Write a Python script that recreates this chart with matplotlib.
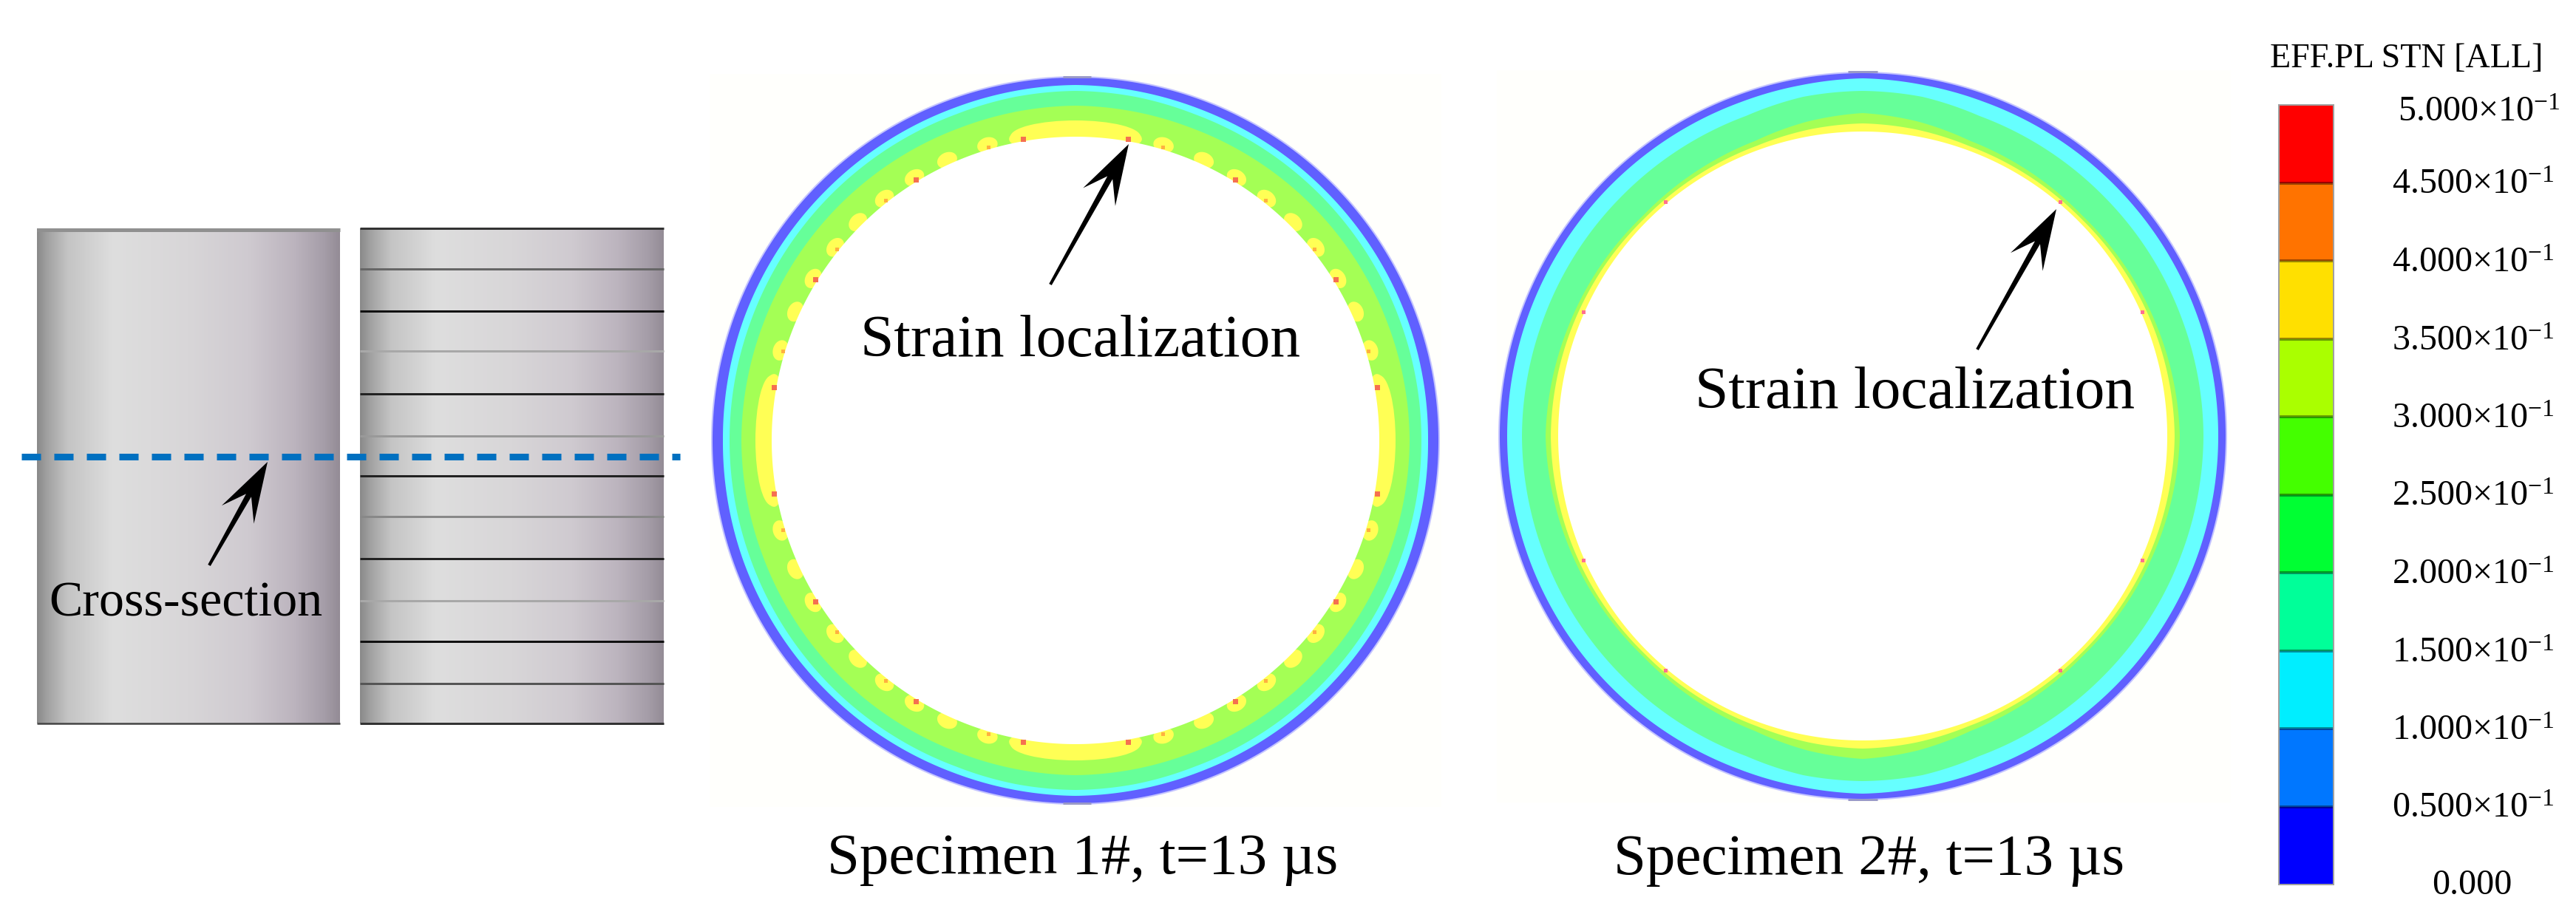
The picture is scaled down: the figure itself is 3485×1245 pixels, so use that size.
import numpy as np
import matplotlib
matplotlib.use('Agg')
import matplotlib.pyplot as plt
from matplotlib.colors import LinearSegmentedColormap
from matplotlib.patches import Ellipse, Polygon

W, H = 3486, 1245

plt.rcParams['font.family'] = ['Liberation Serif', 'DejaVu Serif']
plt.rcParams['mathtext.fontset'] = 'custom'
plt.rcParams['mathtext.rm'] = 'Liberation Serif'
plt.rcParams['mathtext.default'] = 'rm'

# legend levels and colours (top band last)
levels = [0.0, 0.05, 0.10, 0.15, 0.20, 0.25, 0.30, 0.35, 0.40, 0.45, 0.50]
level_colors = ['#0000ff', '#0077ff', '#00eeff', '#00ff99', '#00ff33',
                '#44ff00', '#aaff00', '#ffe000', '#ff7300', '#ff0000']
level_labels = ['0.000', '0.500', '1.000', '1.500', '2.000', '2.500',
                '3.000', '3.500', '4.000', '4.500', '5.000']

# contour colours on the rings (washed out in the original image)
band_colors = ['#6060ff', '#66ffff', '#66ff99', '#a4ff55', '#ffff55']
soft_edge = '#c4c4ff'

# band radii, by angle from the top of the ring
band_angles = [0, 10, 20, 45, 70, 90]
ring1_center = (1455, 596)
ring1_radii = [[491, 491, 491, 491, 491, 491],
               [481, 480, 479, 478, 478, 477],
               [473, 472, 470, 469, 468, 468],
               [453, 452, 451, 451, 451, 452]]
ring1_inner = 411
ring2_center = (2520, 590)
ring2_radii = [[491, 491, 491, 491, 491, 491],
               [484, 482, 481, 481, 481, 481],
               [467, 466, 461, 460, 460, 461],
               [437, 432, 425, 421, 425, 429],
               [423, 421, 418, 417, 420, 422]]
ring2_inner = 412

# strain spots, angle from the top (first quadrant, mirrored on the others)
ring1_blobs = [16.6, 24.6, 31.5, 38.3, 44.9, 51.2, 58.3, 65.3, 73.0]
ring1_red = [9.9, 31.5, 58.3, 80.0]
ring1_faint = [16.6, 38.3, 51.2, 73.0]
ring2_red = [40.1, 66.0]

# the stripes on the layered cylinder
stripe_y = [309, 364, 421, 475, 533, 590, 644, 699, 756, 813, 868, 925, 979]
stripe_gray = ['#333333', '#666666', '#111111', '#a8a8a8', '#222222', '#999999', '#222222',
               '#888888', '#222222', '#a8a8a8', '#111111', '#555555', '#333333']

gray_stops = [(0.0, '#8a8a8a'), (0.03, '#a0a0a0'), (0.10, '#c4c4c4'), (0.25, '#dedede'),
              (0.50, '#d8d6d8'), (0.70, '#cfcad0'), (0.85, '#bcb4be'), (0.95, '#a59da8'),
              (1.0, '#948c96')]
cyl_cmap = LinearSegmentedColormap.from_list('cyl', gray_stops)


def pt(px):
    return px * 72 / 300


def mirror(angles):
    a = np.array(angles)
    return np.concatenate([a, 180 - a, 180 + a, 360 - a])


def ring_xy(center, angle, r):
    t = np.radians(angle)
    return center[0] + r * np.sin(t), center[1] - r * np.cos(t)


def draw_band(ax, center, radii, color):
    t = np.linspace(0, 360, 721)
    folded = np.abs((t + 90) % 180 - 90)
    x, y = ring_xy(center, t, np.interp(folded, band_angles, radii))
    ax.fill(x, y, color=color, lw=0)


def draw_blob(ax, center, angle, r, along, across, color):
    x, y = ring_xy(center, angle, r)
    ax.add_patch(Ellipse((x, y), along, across, angle=angle, fc=color, ec='none'))


def draw_arrow(ax, tip, tail):
    tip = np.array(tip, float)
    tail = np.array(tail, float)
    d = (tail - tip) / np.hypot(*(tail - tip))
    n = np.array([-d[1], d[0]])
    pts = [tip, tip + 82 * d + 25 * n, tip + 52 * d + 4 * n, tail + 2 * n,
           tail - 2 * n, tip + 52 * d - 4 * n, tip + 82 * d - 25 * n]
    ax.add_patch(Polygon(pts, fc='black', ec='none', zorder=6))


fig = plt.figure(figsize=(W / 300, H / 300), dpi=300)
ax = fig.add_axes([0, 0, 1, 1])
ax.set_xlim(0, W)
ax.set_ylim(H, 0)
ax.axis('off')

# cylinders
grad = np.linspace(0, 1, 256).reshape(1, -1)
for x0, x1 in [(50, 460), (487, 898)]:
    ax.imshow(grad, cmap=cyl_cmap, extent=(x0, x1, 979, 309), aspect='auto', zorder=1)
ax.set_xlim(0, W)
ax.set_ylim(H, 0)
ax.hlines(311, 50, 460, color='#909090', lw=pt(5), zorder=2)
ax.hlines(979, 50, 460, color='#444444', lw=pt(2.5), zorder=2)
ax.hlines(stripe_y, 487, 898, colors=stripe_gray, lw=pt(3), zorder=2)

ax.plot([29, 920], [618, 618], color='#0070c0', lw=pt(9),
        dashes=(26 / 9, 18 / 9), dash_capstyle='butt', zorder=3)
draw_arrow(ax, (362, 625), (283, 765))
ax.text(66, 834, 'Cross-section', fontsize=pt(68), ha='left', va='baseline', zorder=6)

# pale image backgrounds behind the rings
ax.fill_between([960, 1950], 100, 1092, color='#fffffc', lw=0, zorder=0)
ax.fill_between([2025, 3018], 95, 1086, color='#fffffc', lw=0, zorder=0)

# ring 1
draw_band(ax, ring1_center, [493] * 6, soft_edge)
for radii, color in zip(ring1_radii, band_colors):
    draw_band(ax, ring1_center, radii, color)
draw_band(ax, ring1_center, [433] * 6, band_colors[3])
for base in (0, 90, 180, 270):
    draw_blob(ax, ring1_center, base, 411, 176, 44, band_colors[4])
    for a in (-9, 9):
        draw_blob(ax, ring1_center, base + a, 416, 50, 24, band_colors[4])
for a in mirror(ring1_blobs):
    draw_blob(ax, ring1_center, a, 417, 28, 21, band_colors[4])
draw_band(ax, ring1_center, [ring1_inner] * 6, 'white')
for a in mirror(ring1_red):
    x, y = ring_xy(ring1_center, a, 414)
    ax.plot(x, y, 's', ms=pt(7), color='#f57050', mew=0, zorder=4)
for a in mirror(ring1_faint):
    x, y = ring_xy(ring1_center, a, 414)
    ax.plot(x, y, 's', ms=pt(5), color='#ffb040', mew=0, zorder=4)
ax.hlines([104, 1087], 1438, 1476, color='#9a9ac8', lw=pt(3), zorder=3)

# ring 2
draw_band(ax, ring2_center, [493] * 6, soft_edge)
for radii, color in zip(ring2_radii, band_colors):
    draw_band(ax, ring2_center, radii, color)
draw_band(ax, ring2_center, [ring2_inner] * 6, 'white')
for a in mirror(ring2_red):
    x, y = ring_xy(ring2_center, a, 414)
    ax.plot(x, y, 's', ms=pt(5), color='#ff7090', mew=0, zorder=4)
ax.hlines([97, 1082], 2500, 2540, color='#9a9ac8', lw=pt(3), zorder=3)

draw_arrow(ax, (1527, 195), (1421, 385))
draw_arrow(ax, (2782, 283), (2675, 473))
ax.text(1164, 482, 'Strain localization', fontsize=pt(81.5), ha='left', va='baseline', zorder=6)
ax.text(2293, 552, 'Strain localization', fontsize=pt(81.5), ha='left', va='baseline', zorder=6)
ax.text(1119, 1182, 'Specimen 1#, t=13 µs', fontsize=pt(79), ha='left', va='baseline')
ax.text(2183, 1183, 'Specimen 2#, t=13 µs', fontsize=pt(79), ha='left', va='baseline')

# colour legend
ax.text(3071, 91, 'EFF.PL STN [ALL]', fontsize=pt(46), ha='left', va='baseline')
cb = fig.add_axes([3083 / W, 1 - 1197 / H, 74 / W, (1197 - 142) / H])
cb.bar(0, np.diff(levels), bottom=levels[:-1], width=1, color=level_colors, align='edge')
cb.set_xlim(0, 1)
cb.set_ylim(0, 0.5)
cb.set_xticks([])
cb.set_yticks([])
for s in cb.spines.values():
    s.set_color('#a0a0a0')
    s.set_linewidth(pt(2))
cb.hlines(levels[1:-1], 0, 1, colors='#00000066', lw=pt(4))

for val, lab in zip(levels, level_labels):
    if val == 0:
        txt, xoff, ha, yoff = lab, 3344 - 3157, 'center', 13
    else:
        txt = lab + r'$\times$10$^{-1}$'
        xoff, ha, yoff = 298, 'right', 15
    if val == 0.5:
        xoff, yoff = 306, 22
    cb.annotate(txt, xy=(1, val), xycoords=cb.get_yaxis_transform(), xytext=(xoff, -yoff),
                textcoords='offset pixels', ha=ha, va='baseline', fontsize=pt(48),
                annotation_clip=False)

fig.savefig('out.png', dpi=300)
